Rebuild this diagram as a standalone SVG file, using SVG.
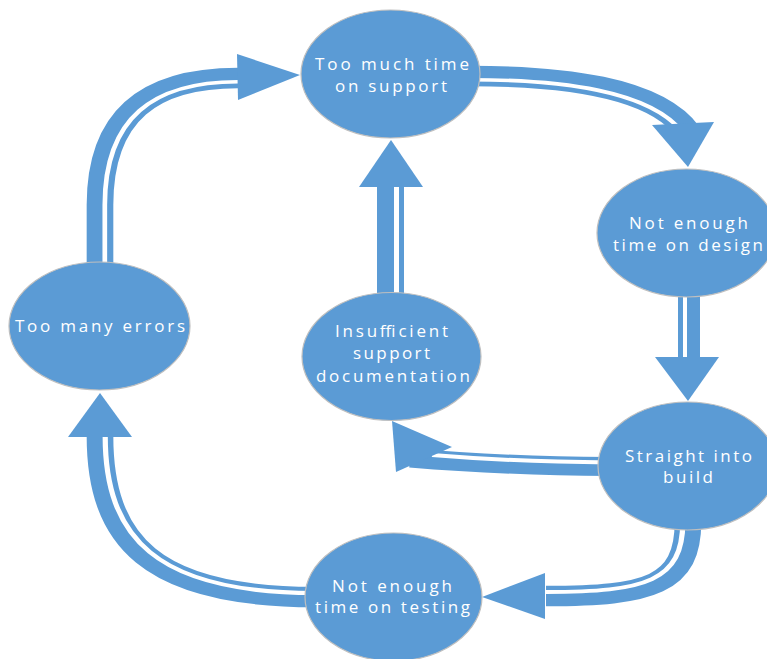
<svg xmlns="http://www.w3.org/2000/svg" width="767" height="659" viewBox="0 0 767 659">
<style>
.band{fill:none;stroke:#5B9BD5;stroke-linecap:butt}
.gap{fill:none;stroke:#FFFFFF;stroke-linecap:butt}
.head{fill:#5B9BD5}
.node ellipse{fill:#5B9BD5;stroke:#BFBFBF;stroke-width:1.2}
.node text{fill:#FFFFFF;font-family:"Open Sans","Noto Sans","DejaVu Sans",sans-serif;font-size:17px;text-anchor:middle}
</style>
<rect width="767" height="659" fill="#FFFFFF"/>
<g id="connectors">
  <g id="c-errors-support">
    <g transform="scale(1.3 1)">
      <path class="band" stroke-width="20.5" d="M76.92,272 L76.92,205 C76.92,115 115.38,78 183.08,78"/>
      <path class="gap" stroke-width="3.6" d="M80.62,272 L80.62,205 C80.62,118 117.5,81.7 183.08,81.7"/>
    </g>
    <polygon class="head" points="237,54 300,75 238,100"/>
  </g>
  <g id="c-support-design">
    <g transform="scale(1.3 1)">
      <path class="band" stroke-width="20.5" d="M361.54,76 C430.77,76 503.85,86 529.23,132"/>
      <path class="gap" stroke-width="3.6" d="M361.54,79.7 C430.77,79.7 501,90 525.99,133.8"/>
    </g>
    <polygon class="head" points="652,125 714,122 688,167"/>
  </g>
  <g id="c-design-build">
    <path class="band" stroke-width="22" d="M689,289 L689,358"/>
    <path class="gap" stroke-width="4" d="M685,289 L685,358"/>
    <polygon class="head" points="655,357 719,357 688,401"/>
  </g>
  <g id="c-build-insufficient">
    <path class="band" stroke-width="19" d="M610,466.5 C540,466 470,463 410,458"/>
    <path class="gap" stroke-width="4" d="M610,462.5 C540,462 480,459 432,455"/>
    <polygon class="head" points="392,421 452,447 396,472"/>
  </g>
  <g id="c-insufficient-support">
    <path class="band" stroke-width="27" d="M390.5,300 L390.5,186"/>
    <path class="gap" stroke-width="5" d="M396.5,300 L396.5,186"/>
    <polygon class="head" points="359,187 423,187 391,140"/>
  </g>
  <g id="c-build-testing">
    <g transform="scale(1.3 1)">
      <path class="band" stroke-width="20.5" d="M529.23,522 C529.23,585 500,596 420,596"/>
      <path class="gap" stroke-width="4" d="M525.23,522 C525.23,581 497,592 420,592"/>
    </g>
    <polygon class="head" points="545,573 545,619 482,597"/>
  </g>
  <g id="c-testing-errors">
    <g transform="scale(1.3 1)">
      <path class="band" stroke-width="20.5" d="M76.92,436 C76.92,540 115.38,597 242.31,597"/>
      <path class="gap" stroke-width="4" d="M80.92,436 C80.92,536 118.5,593 242.31,593"/>
    </g>
    <polygon class="head" points="68,437 132,437 100,393"/>
  </g>
</g>
<g id="node-support" class="node">
  <ellipse cx="390.5" cy="74" rx="89.5" ry="64"/>
  <text x="392" y="70" textLength="154" lengthAdjust="spacing">Too much time</text>
  <text x="391" y="92" textLength="112" lengthAdjust="spacing">on support</text>
</g>
<g id="node-design" class="node">
  <ellipse cx="686.5" cy="233" rx="89.5" ry="64"/>
  <text x="688.5" y="229" textLength="119" lengthAdjust="spacing">Not enough</text>
  <text x="688" y="250.5" textLength="150" lengthAdjust="spacing">time on design</text>
</g>
<g id="node-errors" class="node">
  <ellipse cx="99.5" cy="326" rx="90.5" ry="64"/>
  <text x="100" y="332" textLength="170" lengthAdjust="spacing">Too many errors</text>
</g>
<g id="node-insufficient" class="node">
  <ellipse cx="391.5" cy="356.5" rx="89.5" ry="64"/>
  <text x="391.5" y="337" textLength="113" lengthAdjust="spacing">Insufficient</text>
  <text x="391.5" y="359" textLength="77" lengthAdjust="spacing">support</text>
  <text x="393" y="381.5" textLength="154" lengthAdjust="spacing">documentation</text>
</g>
<g id="node-build" class="node">
  <ellipse cx="687.5" cy="466" rx="89.5" ry="64"/>
  <text x="688.5" y="461.5" textLength="127" lengthAdjust="spacing">Straight into</text>
  <text x="688" y="483" textLength="50" lengthAdjust="spacing">build</text>
</g>
<g id="node-testing" class="node">
  <ellipse cx="393.5" cy="597" rx="88.5" ry="64"/>
  <text x="392" y="591.5" textLength="120" lengthAdjust="spacing">Not enough</text>
  <text x="392.5" y="613" textLength="155" lengthAdjust="spacing">time on testing</text>
</g>
</svg>
